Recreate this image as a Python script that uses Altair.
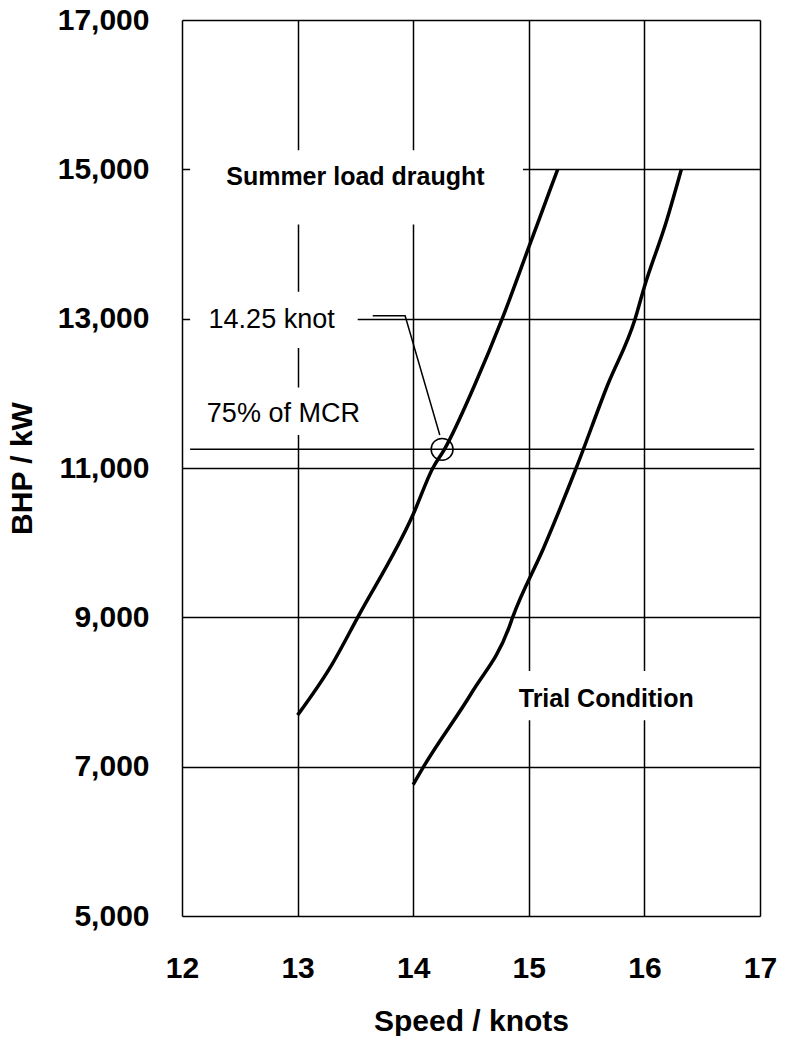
import altair as alt
import pandas as pd

# ---- data ----
summer_speed = [13.0, 13.29, 13.52, 14.0, 14.17, 14.27, 14.53, 14.77, 15.0, 15.19, 15.25]
summer_bhp = [7690, 8350, 9000, 10380, 11000, 11250, 12105, 13000, 13957, 14751, 15000]

trial_speed = [14.0, 14.09, 14.51, 14.83, 14.86, 15.13, 15.41, 15.68, 15.92, 16.0, 16.19, 16.32]
trial_bhp = [6760, 7000, 8000, 8870, 9000, 9935, 11000, 12105, 13000, 13428, 14301, 15000]

x_ticks = [12, 13, 14, 15, 16, 17]
y_ticks = [5000, 7000, 9000, 11000, 13000, 15000, 17000]

mcr_bhp = 11250
mcr_speed = 14.25

# annotation label boxes (data units) that interrupt the grid
box_x1 = [12.07, 12.07, 12.07, 14.80]
box_x2 = [14.95, 13.52, 13.59, 16.55]
box_y1 = [14261, 12607, 11443, 7620]
box_y2 = [15254, 13362, 12078, 8282]

bold_text = ["Summer load draught", "Trial Condition"]
bold_x = [13.50, 15.67]
bold_y = [14896, 7911]

reg_text = ["14.25 knot", "75% of MCR"]
reg_x = [12.23, 12.215]
reg_y = [12978, 11721]

leader_x = [13.65, 13.93, 14.23]
leader_y = [13040, 13040, 11443]

FONT = "Liberation Sans"

xs = alt.Scale(domain=[12, 17], nice=False, zero=False)
ys = alt.Scale(domain=[5000, 17000], nice=False, zero=False)

curves = pd.DataFrame({
    "speed": summer_speed + trial_speed,
    "bhp": summer_bhp + trial_bhp,
    "series": ["Summer load draught"] * len(summer_speed) + ["Trial Condition"] * len(trial_speed),
})

W, H = 578, 896
PAD_LEFT = 174
PAD_RIGHT = 769 - PAD_LEFT - W
PAD_TOP = 12
PAD_BOTTOM = 1028 - PAD_TOP - H

x_axis = alt.Axis(values=x_ticks, format="d", grid=True, gridColor="black", gridWidth=1.5,
                  gridOpacity=1, ticks=False, domain=False, labelFont=FONT, labelFontWeight="bold",
                  labelFontSize=30, labelColor="black", labelPadding=37, labelFlush=False,
                  title="Speed / knots", titleFont=FONT, titleFontWeight="bold", titleFontSize=30,
                  titleColor="black", titleX=W / 2, titleY=105, titleBaseline="middle", titleAlign="center")
y_axis = alt.Axis(values=y_ticks, format=",d", grid=True, gridColor="black", gridWidth=1.5,
                  gridOpacity=1, ticks=False, domain=False, labelFont=FONT, labelFontWeight="bold",
                  labelFontSize=30, labelColor="black", labelPadding=33, labelFlush=False,
                  title="BHP / kW", titleFont=FONT, titleFontWeight="bold", titleFontSize=30,
                  titleColor="black", titleX=-160, titleY=H / 2, titleAngle=270,
                  titleBaseline="middle", titleAlign="center")

base_grid = alt.Chart(pd.DataFrame({"speed": [12.0], "bhp": [5000]})).mark_point(opacity=0).encode(
    x=alt.X("speed:Q", scale=xs, axis=x_axis),
    y=alt.Y("bhp:Q", scale=ys, axis=y_axis),
)

boxes = alt.Chart(pd.DataFrame({"x1": box_x1, "x2": box_x2, "y1": box_y1, "y2": box_y2})).mark_rect(
    fill="white").encode(
    x=alt.X("x1:Q", scale=xs), x2="x2:Q",
    y=alt.Y("y1:Q", scale=ys), y2="y2:Q",
)

bold_labels = alt.Chart(pd.DataFrame({"x": bold_x, "y": bold_y, "t": bold_text})).mark_text(
    font=FONT, fontWeight="bold", fontSize=25, color="black", align="center", baseline="middle").encode(
    x=alt.X("x:Q", scale=xs), y=alt.Y("y:Q", scale=ys), text="t:N")

reg_labels = alt.Chart(pd.DataFrame({"x": reg_x, "y": reg_y, "t": reg_text})).mark_text(
    font=FONT, fontSize=27, color="black", align="left", baseline="middle").encode(
    x=alt.X("x:Q", scale=xs), y=alt.Y("y:Q", scale=ys), text="t:N")

lines = alt.Chart(curves).mark_line(color="black", strokeWidth=3.5, interpolate="monotone").encode(
    x=alt.X("speed:Q", scale=xs), y=alt.Y("bhp:Q", scale=ys), detail="series:N")

mcr_line = alt.Chart(pd.DataFrame({"x1": [12.07], "x2": [16.95], "y": [mcr_bhp]})).mark_rule(
    color="black", strokeWidth=1.5).encode(
    x=alt.X("x1:Q", scale=xs), x2="x2:Q", y=alt.Y("y:Q", scale=ys))

circle = alt.Chart(pd.DataFrame({"x": [mcr_speed], "y": [mcr_bhp]})).mark_point(
    shape="circle", size=480, filled=False, color="black", strokeWidth=1.5, opacity=1).encode(
    x=alt.X("x:Q", scale=xs), y=alt.Y("y:Q", scale=ys))

leader = alt.Chart(pd.DataFrame({"x": leader_x, "y": leader_y, "o": [0, 1, 2]})).mark_line(
    color="black", strokeWidth=1.5).encode(
    x=alt.X("x:Q", scale=xs), y=alt.Y("y:Q", scale=ys), order="o:Q")

chart = alt.layer(base_grid, boxes, bold_labels, reg_labels, mcr_line, leader, circle, lines).properties(
    width=W, height=H,
    autosize=alt.AutoSizeParams(type="none"),
    padding={"left": PAD_LEFT, "top": PAD_TOP, "right": PAD_RIGHT, "bottom": PAD_BOTTOM},
).configure_view(stroke="black", strokeWidth=3.5).configure(background="white")

chart.save("out.html", embed_options={"renderer": "svg", "actions": False})
